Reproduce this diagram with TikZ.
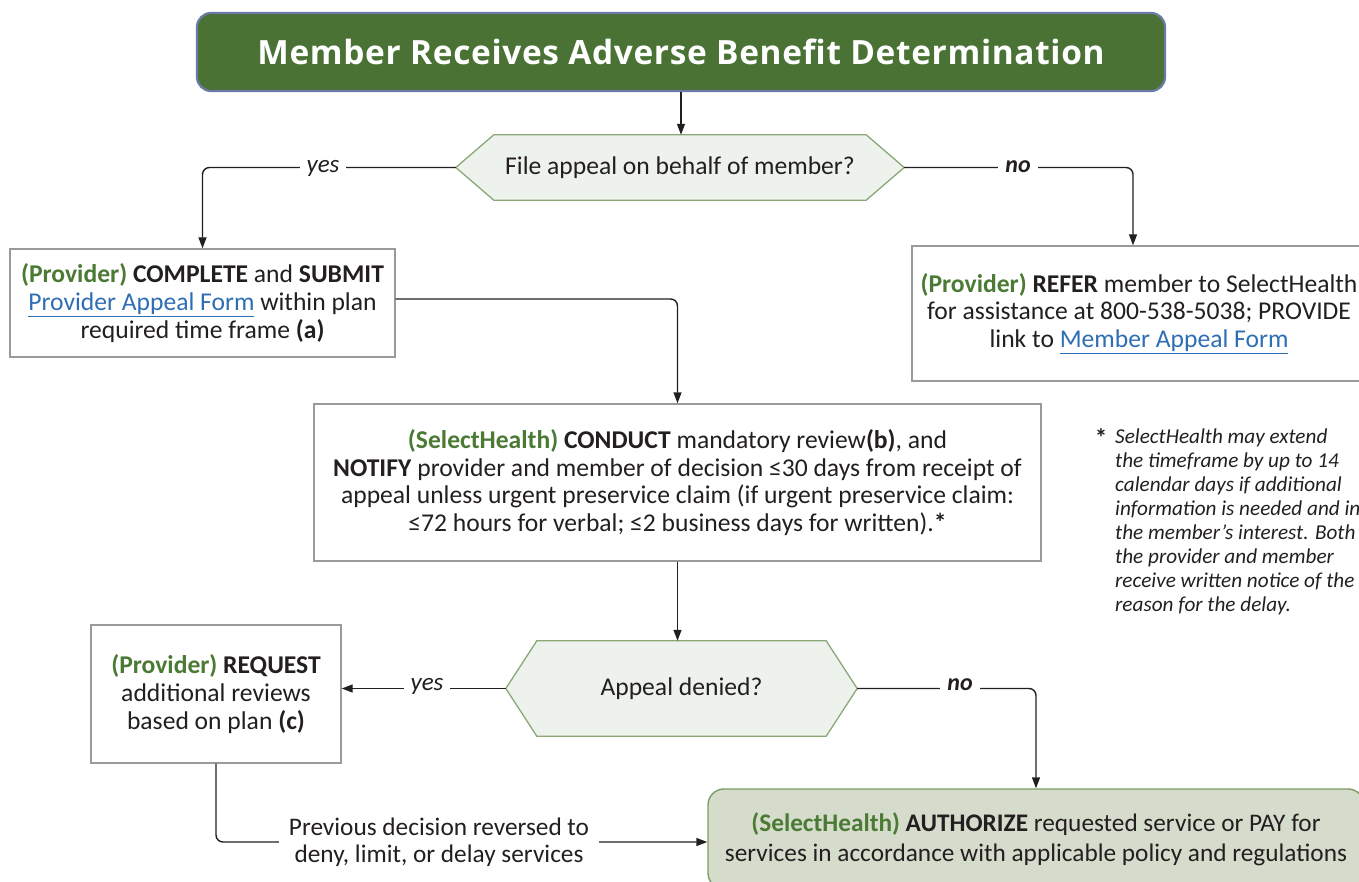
\documentclass[tikz,border=0pt]{standalone}
\usepackage{fontspec}
\setmainfont{Carlito}
\newfontfamily\headfont[LetterSpace=2]{Open Sans}
\usetikzlibrary{arrows.meta,calc,backgrounds}

\definecolor{ink}{HTML}{231F20}
\definecolor{leaf}{HTML}{4A7A33}
\definecolor{headfill}{HTML}{4A7234}
\definecolor{headedge}{HTML}{6C7BA6}
\definecolor{hexfill}{HTML}{EEF2EC}
\definecolor{hexedge}{HTML}{8AA877}
\definecolor{boxedge}{HTML}{9A9A9A}
\definecolor{endfill}{HTML}{D5DCCB}
\definecolor{endedge}{HTML}{7E9C67}
\definecolor{linkblue}{HTML}{2E6EB5}

\newcommand{\provtag}{{\color{leaf}\textbf{(Provider)}}}
\newcommand{\shtag}{{\color{leaf}\textbf{(SelectHealth)}}}
\newcommand{\weblink}[1]{{\color{linkblue}\underline{#1}}}
\newcommand{\bodysize}{\fontsize{25.6}{27.6}\selectfont}

\tikzset{
  headbox/.style={draw=headedge, line width=2.2pt, fill=headfill, rounded corners=14pt,
    text=white, font=\headfont\bfseries\fontsize{33.4}{38}\selectfont},
  stepbox/.style={draw=boxedge, line width=1.4pt, fill=white, align=flush center,
    text=ink, font=\bodysize, inner sep=0pt},
  endbox/.style={draw=endedge, line width=1.4pt, fill=endfill, rounded corners=16pt,
    align=flush center, text=ink, font=\fontsize{25.3}{30}\selectfont, inner sep=0pt},
  hextext/.style={text=ink, font=\bodysize, inner sep=0pt},
  hexshape/.style={draw=hexedge, line width=1.3pt, fill=hexfill},
  conn/.style={draw=ink, line width=1.4pt, rounded corners=7pt},
  tip/.style={-{Triangle[length=11pt,width=8pt]}},
  lbl/.style={fill=white, text=ink, inner xsep=7pt, inner ysep=1pt},
}

\begin{document}
\begin{tikzpicture}[x=1pt,y=-1pt]
\useasboundingbox (0,0) rectangle (1359,882);

% ---- nodes ----
\node[headbox, minimum width=968, minimum height=78] (head) at (681,52)
  {Member Receives Adverse Benefit Determination};

\node[hextext, minimum width=448, minimum height=65] (q1) at (680,167.5)
  {File appeal on behalf of member?};

\node[stepbox, text width=375pt, minimum width=385pt, minimum height=108] (submit) at (202.5,303)
  {\provtag{} \textbf{COMPLETE} and \textbf{SUBMIT}\\
   \weblink{Provider Appeal Form} within plan\\
   required time frame \textbf{(a)}};

\node[stepbox, text width=444pt, minimum width=454pt, minimum height=135] (refer) at (1139,313.5)
  {\provtag{} \textbf{REFER} member to SelectHealth\\
   for assistance at 800-538-5038; PROVIDE\\
   link to \weblink{Member Appeal Form}};

\node[stepbox, text width=710pt, minimum width=727pt, minimum height=157] (review) at (677.5,482.5)
  {\shtag{} \textbf{CONDUCT} mandatory review\textbf{(b)}, and\\
   \textbf{NOTIFY} provider and member of decision ≤30 days from receipt of\\
   appeal unless urgent preservice claim (if urgent preservice claim:\\
   ≤72 hours for verbal; ≤2 business days for written).\textbf{*}};

\node[hextext, minimum width=351, minimum height=95] (q2) at (681.5,688.5)
  {Appeal denied?};

\node[stepbox, text width=240pt, minimum width=250pt, minimum height=138] (request) at (216,694)
  {\provtag{} \textbf{REQUEST}\\
   additional reviews\\
   based on plan \textbf{(c)}};

\node[endbox, text width=646pt, minimum width=656pt, minimum height=100] (authorize) at (1036,839)
  {\shtag{} \textbf{AUTHORIZE} requested service or PAY for\\
   services in accordance with applicable policy and regulations};

% ---- hexagonal decision outlines ----
\begin{scope}[on background layer]
  \draw[hexshape] (q1.west) -- ($(q1.north west)+(38,0)$) -- ($(q1.north east)+(-38,0)$)
    -- (q1.east) -- ($(q1.south east)+(-38,0)$) -- ($(q1.south west)+(38,0)$) -- cycle;
  \draw[hexshape] (q2.west) -- ($(q2.north west)+(31,0)$) -- ($(q2.north east)+(-31,0)$)
    -- (q2.east) -- ($(q2.south east)+(-31,0)$) -- ($(q2.south west)+(31,0)$) -- cycle;
\end{scope}

% ---- connectors ----
\draw[conn,tip] (head.south) -- (head.south |- q1.north);
\draw[conn,tip] (q1.west) -| (submit.north);
\draw[conn,tip] (q1.east) -| ([xshift=-6pt]refer.north);
\draw[conn,tip] (submit.east |- 0,299) -| (review.north);
\draw[conn,tip] (review.south) -- (review.south |- q2.north);
\draw[conn,tip] (q2.west) -- (q2.west -| request.east);
\draw[conn,tip] (q2.east) -| (authorize.north);
\draw[conn,tip] (request.south) |- (authorize.west |- 0,842);

% ---- connector labels ----
\node[lbl, font=\itshape\fontsize{25}{28}\selectfont] (yes1) at (323,168) {yes};
\node[lbl, font=\bfseries\itshape\fontsize{24}{28}\selectfont] (no1) at (1018,167) {no};
\node[lbl, font=\itshape\fontsize{25}{28}\selectfont] (yes2) at (427,686) {yes};
\node[lbl, font=\bfseries\itshape\fontsize{24}{28}\selectfont] (no2) at (960,685) {no};
\node[lbl, align=center, inner xsep=10pt, font=\fontsize{25.3}{27.2}\selectfont] (reversed) at (439,842)
  {Previous decision reversed to\\ deny, limit, or delay services};

% ---- footnote ----
\node[anchor=north, text=ink, font=\bfseries\fontsize{25}{28}\selectfont, inner sep=0pt] (star) at (1101,428) {*};
\node[anchor=north west, align=left, text=ink, inner sep=0pt,
      font=\itshape\fontsize{21.2}{24}\selectfont] (note) at (1115,429)
  {SelectHealth may extend\\
   the timeframe by up to 14\\
   calendar days if additional\\
   information is needed and in\\
   the member’s interest. Both\\
   the provider and member\\
   receive written notice of the\\
   reason for the delay.};
\end{tikzpicture}
\end{document}
